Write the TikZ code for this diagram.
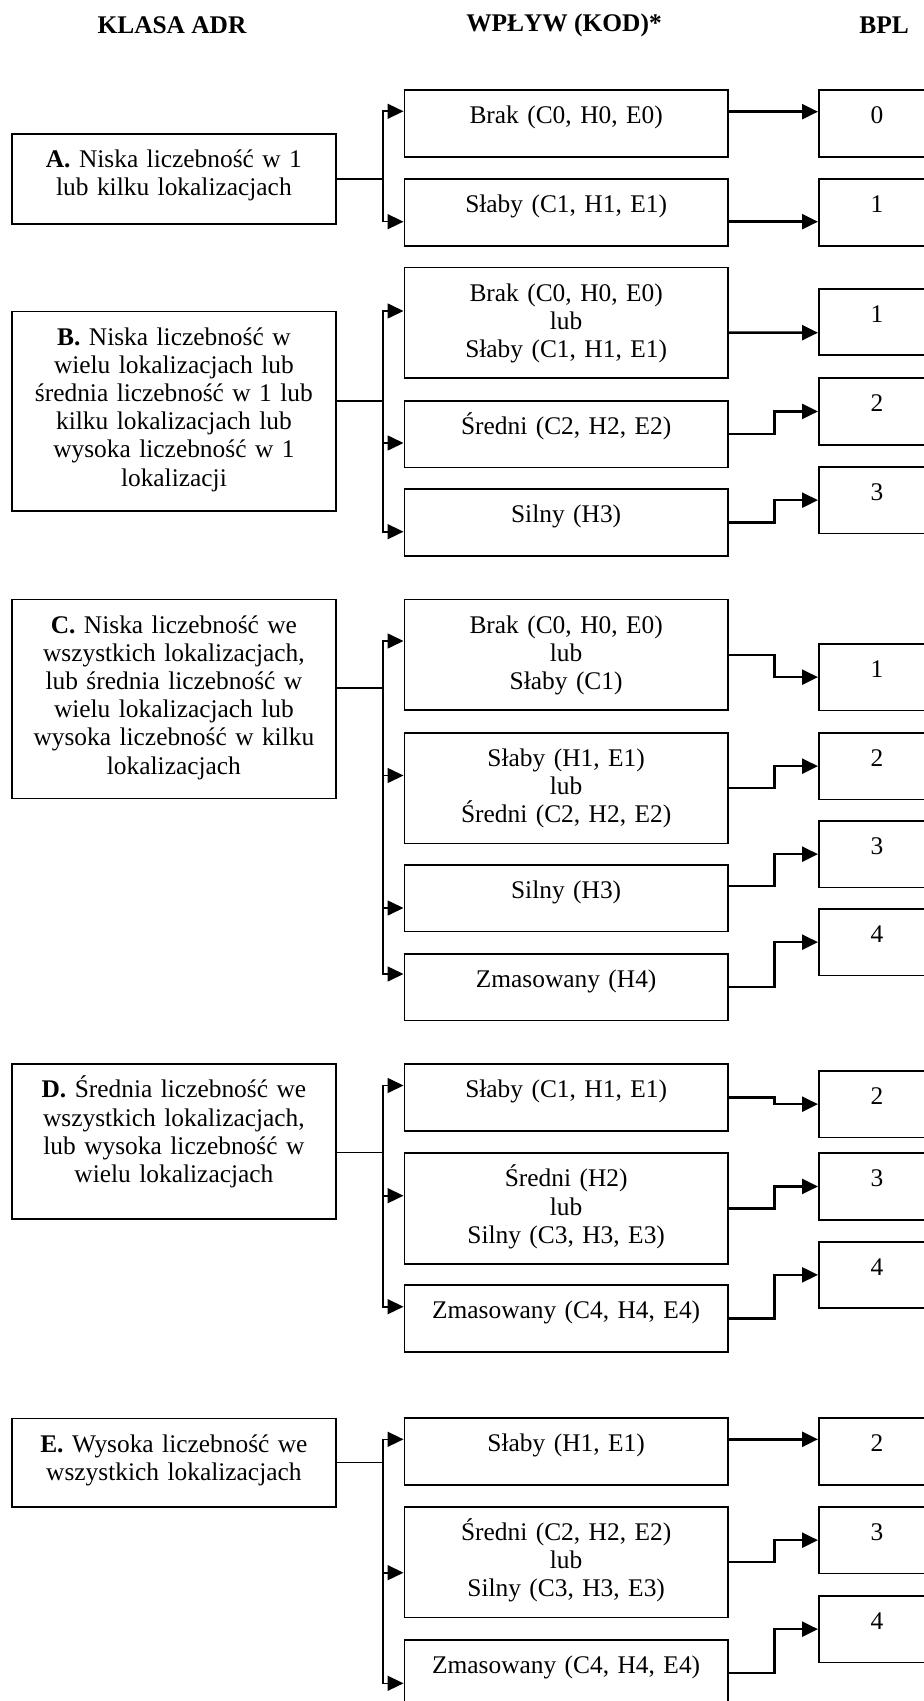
\documentclass[tikz,border=0pt]{standalone}
\usepackage{fontspec}
\setmainfont{Liberation Serif}
\usetikzlibrary{arrows.meta}

\begin{document}
\begin{tikzpicture}[x=0.5pt,y=-0.5pt,
    font=\fontsize{12.7}{14.1}\selectfont,
    box/.style={draw,line width=0.9pt,inner sep=0pt,align=center,
      anchor=north west,text height=16.8pt},
    lbox/.style={box,text width=162pt},
    mbox/.style={box,text width=161.75pt},
    rbox/.style={box,text width=58pt,text depth=16.45pt},
    one/.style={text depth=16.45pt},
    three/.style={text depth=38.45pt},
    header/.style={font=\fontsize{12.7}{14.1}\selectfont\bfseries},
    fork/.style={line width=0.8pt,-{Triangle[length=8pt,width=7.5pt]}},
    link/.style={line width=1.2pt,-{Triangle[length=8pt,width=7.5pt]}}]
  \clip (0,0) rectangle (924,1701);

  \node[header] (hKlasa) at (172,25) {KLASA ADR};
  \node[header] (hWplyw) at (564,25) {WPŁYW (KOD)*};
  \node[header] (hBpl) at (884,25) {BPL};

  % klasa A
  \node[lbox,text depth=27.95pt] (lA) at (11,133.3) {\textbf{A.} Niska liczebność w 1\\lub kilku lokalizacjach};
  \node[mbox,one] (mA1) at (403.5,89.3) {Brak (C0, H0, E0)};
  \node[mbox,one] (mA2) at (403.5,178.3) {Słaby (C1, H1, E1)};
  \node[rbox] (rA0) at (818,89.3) {0};
  \node[rbox] (rA1) at (818,178.3) {1};
  \draw[fork] (lA.east) -- ++(46,0) |- ([yshift=-11pt]mA1.north west);
  \draw[fork] (lA.east) -- ++(46,0) |- ([yshift=-21.7pt]mA2.north west);
  \draw[link] ([yshift=-11.2pt]mA1.north east) -- ([yshift=-11.2pt]rA0.north west);
  \draw[link] ([yshift=-21.7pt]mA2.north east) -- ([yshift=-21.7pt]rA1.north west);

  % klasa B
  \node[lbox,text depth=83.05pt] (lB) at (11,310.7) {\textbf{B.} Niska liczebność w\\wielu lokalizacjach lub\\średnia liczebność w 1 lub\\kilku lokalizacjach lub\\wysoka liczebność w 1\\lokalizacji};
  \node[mbox,three] (mB1) at (403.5,266.7) {Brak (C0, H0, E0)\\lub\\Słaby (C1, H1, E1)};
  \node[mbox,one] (mB2) at (403.5,400) {Średni (C2, H2, E2)};
  \node[mbox,one] (mB3) at (403.5,488.3) {Silny (H3)};
  \node[rbox] (rB1) at (818,288) {1};
  \node[rbox] (rB2) at (818,377.3) {2};
  \node[rbox] (rB3) at (818,466) {3};
  \draw[fork] ([yshift=5.25pt]lB.east) -- ++(46,0) |- ([yshift=-22.15pt]mB1.north west);
  \draw[fork] ([yshift=5.25pt]lB.east) -- ++(46,0) |- ([yshift=-21.5pt]mB2.north west);
  \draw[fork] ([yshift=5.25pt]lB.east) -- ++(46,0) |- ([yshift=-21.7pt]mB3.north west);
  \draw[link] ([yshift=-33pt]mB1.north east) -- ([yshift=-22.35pt]rB1.north west);
  \draw[link] (mB2.east) -- ++(45.7,0) |- (rB2.west);
  \draw[link] (mB3.east) -- ++(45.7,0) |- (rB3.west);

  % klasa C
  \node[lbox,text depth=82.7pt] (lC) at (11,598.5) {\textbf{C.} Niska liczebność we\\wszystkich lokalizacjach,\\lub średnia liczebność w\\wielu lokalizacjach lub\\wysoka liczebność w kilku\\lokalizacjach};
  \node[mbox,three] (mC1) at (403.5,598.6) {Brak (C0, H0, E0)\\lub\\Słaby (C1)};
  \node[mbox,three] (mC2) at (403.5,732) {Słaby (H1, E1)\\lub\\Średni (C2, H2, E2)};
  \node[mbox,one] (mC3) at (403.5,864) {Silny (H3)};
  \node[mbox,one] (mC4) at (403.5,953) {Zmasowany (H4)};
  \node[rbox] (rC1) at (818,643) {1};
  \node[rbox] (rC2) at (818,732) {2};
  \node[rbox] (rC3) at (818,820) {3};
  \node[rbox] (rC4) at (818,908) {4};
  \draw[fork] ([yshift=5.5pt]lC.east) -- ++(46,0) |- ([yshift=-21.2pt]mC1.north west);
  \draw[fork] ([yshift=5.5pt]lC.east) -- ++(46,0) |- ([yshift=-21.75pt]mC2.north west);
  \draw[fork] ([yshift=5.5pt]lC.east) -- ++(46,0) |- ([yshift=-22pt]mC3.north west);
  \draw[fork] ([yshift=5.5pt]lC.east) -- ++(46,0) |- ([yshift=-10.5pt]mC4.north west);
  \draw[link] (mC1.east) -- ++(45.7,0) |- (rC1.west);
  \draw[link] (mC2.east) -- ++(45.7,0) |- (rC2.west);
  \draw[link] ([yshift=-10.85pt]mC3.north east) -- ++(45.7,0) |- (rC3.west);
  \draw[link] (mC4.east) -- ++(45.7,0) |- (rC4.west);

  % klasa D
  \node[lbox,text depth=60.7pt] (lD) at (11,1063.3) {\textbf{D.} Średnia liczebność we\\wszystkich lokalizacjach,\\lub wysoka liczebność w\\wielu lokalizacjach};
  \node[mbox,one] (mD1) at (403.5,1063.3) {Słaby (C1, H1, E1)};
  \node[mbox,three] (mD2) at (403.5,1152.3) {Średni (H2)\\lub\\Silny (C3, H3, E3)};
  \node[mbox,one] (mD3) at (403.5,1284.3) {Zmasowany (C4, H4, E4)};
  \node[rbox] (rD2) at (818,1070) {2};
  \node[rbox] (rD3) at (818,1152.3) {3};
  \node[rbox] (rD4) at (818,1240.7) {4};
  \draw[fork] ([yshift=-5.45pt]lD.east) -- ++(46,0) |- ([yshift=-11.1pt]mD1.north west);
  \draw[fork] ([yshift=-5.45pt]lD.east) -- ++(46,0) |- ([yshift=-21.7pt]mD2.north west);
  \draw[fork] ([yshift=-5.45pt]lD.east) -- ++(46,0) |- ([yshift=-11.2pt]mD3.north west);
  \draw[link] (mD1.east) -- ++(45.7,0) |- (rD2.west);
  \draw[link] (mD2.east) -- ++(45.7,0) |- (rD3.west);
  \draw[link] (mD3.east) -- ++(45.7,0) |- (rD4.west);

  % klasa E
  \node[lbox,text depth=27.45pt] (lE) at (11,1417.5) {\textbf{E.} Wysoka liczebność we\\wszystkich lokalizacjach};
  \node[mbox,one] (mE1) at (403.5,1417.3) {Słaby (H1, E1)};
  \node[mbox,three] (mE2) at (403.5,1506) {Średni (C2, H2, E2)\\lub\\Silny (C3, H3, E3)};
  \node[mbox,one] (mE3) at (403.5,1639) {Zmasowany (C4, H4, E4)};
  \node[rbox] (rE2) at (818,1417.3) {2};
  \node[rbox] (rE3) at (818,1506) {3};
  \node[rbox] (rE4) at (818,1595) {4};
  \draw[fork] (lE.east) -- ++(46,0) |- ([yshift=-11pt]mE1.north west);
  \draw[fork] (lE.east) -- ++(46,0) |- ([yshift=-33.35pt]mE2.north west);
  \draw[fork] (lE.east) -- ++(46,0) |- ([yshift=-22.15pt]mE3.north west);
  \draw[link] ([yshift=-11pt]mE1.north east) -- ([yshift=-11pt]rE2.north west);
  \draw[link] (mE2.east) -- ++(45.7,0) |- (rE3.west);
  \draw[link] (mE3.east) -- ++(45.7,0) |- (rE4.west);
\end{tikzpicture}
\end{document}
